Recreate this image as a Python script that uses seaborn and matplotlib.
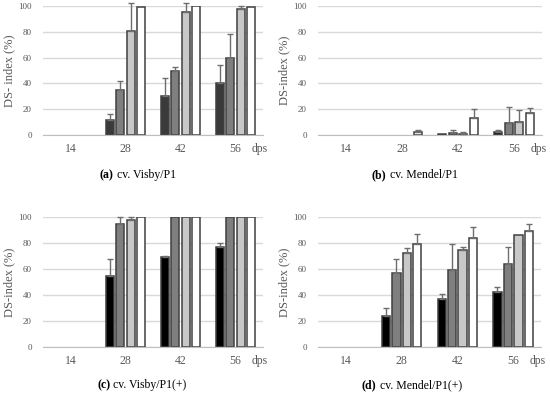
import numpy as np
import pandas as pd
import seaborn as sns
import matplotlib.pyplot as plt

plt.switch_backend("Agg")

days = ["14", "28", "42", "56"]
groups = ["g1", "g2", "g3", "g4"]

# DS-index (%) per day (rows) and group (columns)
visby_p1 = [[0, 0, 0, 0], [12, 35, 81, 99], [30, 50, 95, 100], [40, 60, 98, 99]]
visby_p1_err = [[0, 0, 0, 0], [4, 7, 21, 0], [14, 3, 7, 0], [14, 18, 2, 0]]

mendel_p1 = [[0, 0, 0, 0], [0, 0, 0, 2], [1, 1.5, 1, 13], [2, 9, 10, 17]]
mendel_p1_err = [[0, 0, 0, 0], [0, 0, 0, 2], [0, 2, 1, 7], [2, 13, 9, 4]]

visby_p1p = [[0, 0, 0, 0], [55, 95, 98, 100], [69, 100, 100, 100], [77, 100, 100, 100]]
visby_p1p_err = [[0, 0, 0, 0], [13, 5, 2, 0], [1, 0, 0, 0], [3, 0, 0, 0]]

mendel_p1p = [[0, 0, 0, 0], [24, 57, 72, 79], [37, 59, 75, 84], [42, 64, 86, 89]]
mendel_p1p_err = [[0, 0, 0, 0], [6, 11, 4, 8], [4, 20, 2, 8], [4, 13, 0, 6]]

panels = [
    ("(a)", " cv. Visby/P1", visby_p1, visby_p1_err, "DS- index (%)", "#3a3a3a"),
    ("(b)", " cv. Mendel/P1", mendel_p1, mendel_p1_err, "DS-index (%)", "#1a1a1a"),
    ("(c)", " cv. Visby/P1(+)", visby_p1p, visby_p1p_err, "DS-index (%)", "#000000"),
    ("(d)", " cv. Mendel/P1(+)", mendel_p1p, mendel_p1p_err, "DS-index (%)", "#000000"),
]

plt.rcParams["font.family"] = ["Liberation Serif", "DejaVu Serif"]

fig = plt.figure(figsize=(5.5, 3.97), dpi=100)
W, H = 550, 397
boxes = [(43, 6, 220, 129), (318, 6, 224, 129), (43, 217, 220, 130), (318, 217, 223, 130)]
title_pos = [(100, 175), (372, 175), (97, 385), (362, 385)]

for (tag, label, vals, errs, ylab, c1), (x0, y0, w, h), (tx, ty) in zip(panels, boxes, title_pos):
    ax = fig.add_axes([x0 / W, 1 - (y0 + h) / H, w / W, h / H])
    df = pd.DataFrame(
        [(d, g, vals[i][j]) for i, d in enumerate(days) for j, g in enumerate(groups)],
        columns=["day", "group", "value"],
    )
    palette = {"g1": c1, "g2": "#7f7f7f", "g3": "#c8c8c8", "g4": "#ffffff"}
    sns.barplot(data=df, x="day", y="value", hue="group", order=days, hue_order=groups,
                palette=palette, width=0.75, gap=0.2, edgecolor="#404040", linewidth=1.1,
                errorbar=None, legend=False, ax=ax, zorder=2)
    bar_sets = list(ax.containers)
    for j, cont in enumerate(bar_sets):
        xs, ys, es = [], [], []
        for i, p in enumerate(cont.patches):
            if p.get_height() == 0:
                p.set_visible(False)
            if errs[i][j] > 0:
                xs.append(p.get_x() + p.get_width() / 2)
                ys.append(p.get_height())
                es.append(errs[i][j])
        if xs:
            eb = ax.errorbar(xs, ys, yerr=[np.zeros(len(es)), es], fmt="none",
                             ecolor="#6e6e6e", elinewidth=1, capsize=2.5, capthick=1, zorder=3)
            for art in eb.lines[1] + eb.lines[2]:
                art.set_clip_on(False)
    ax.set_ylim(0, 100)
    ax.set_xlim(-0.5, 3.5)
    ax.set_yticks([0, 20, 40, 60, 80, 100])
    ax.yaxis.grid(True, color="#d9d9d9", linewidth=1)
    ax.set_axisbelow(True)
    for s in ["top", "right", "left"]:
        ax.spines[s].set_visible(False)
    ax.spines["bottom"].set_color("#bfbfbf")
    ax.tick_params(axis="y", length=0, labelsize=6.5, labelcolor="#595959", pad=8)
    ax.tick_params(axis="x", length=0, labelsize=8.5, labelcolor="#595959", pad=6)
    ax.set_xlabel("")
    ax.set_ylabel(ylab, fontsize=9, color="#595959", labelpad=2)
    ax.annotate("dps", xy=(0.985, 0), xycoords="axes fraction", xytext=(0, -6),
                textcoords="offset points", ha="center", va="top",
                fontsize=8.5, color="#595959")
    t = fig.text(tx / W, 1 - ty / H, tag, fontsize=8.5, fontweight="bold", ha="left", va="center")
    ax.annotate(label, xy=(1, 0.5), xycoords=t, ha="left", va="center", fontsize=8.5)

fig.savefig("out.png", dpi=100)
